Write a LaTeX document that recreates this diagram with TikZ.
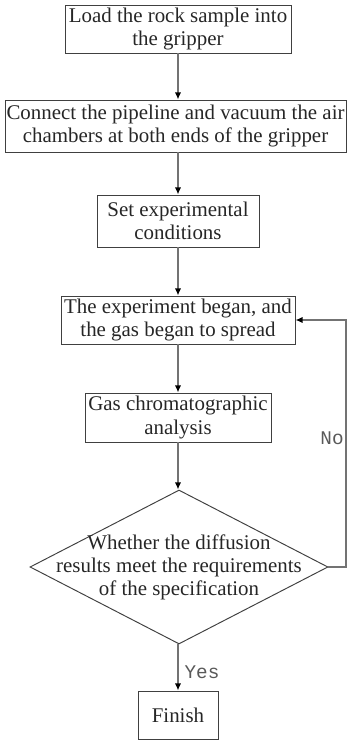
\documentclass[tikz,border=0pt]{standalone}
\usepackage{fontspec}
\setmainfont{Liberation Serif}
\newfontfamily\labelfont{Liberation Mono}
\usetikzlibrary{shapes.geometric,arrows.meta}

\begin{document}
\begin{tikzpicture}[font=\fontsize{11.9}{13.1}\selectfont,
    stepbox/.style={draw=black!75,line width=0.55pt,align=center,inner sep=0pt,text=black!85},
    flow/.style={draw=black!55,line width=0.85pt,-{Latex[black,length=4pt,width=3.6pt]}},
    answer/.style={font=\labelfont\fontsize{11}{13}\selectfont,text=black!65}]
      \useasboundingbox (0,0) rectangle (6.94,14.86);
      \node[stepbox,minimum width=4.52cm,minimum height=0.96cm] (load) at (3.56,14.28) {Load the rock sample into\\the gripper};
      \node[stepbox,minimum width=6.82cm,minimum height=1.04cm] (connect) at (3.51,12.34) {Connect the pipeline and vacuum the air\\chambers at both ends of the gripper};
      \node[stepbox,minimum width=3.24cm,minimum height=1.04cm] (conditions) at (3.56,10.44) {Set experimental\\conditions};
      \node[stepbox,minimum width=4.68cm,minimum height=0.96cm] (spread) at (3.56,8.46) {The experiment began, and\\the gas began to spread};
      \node[stepbox,minimum width=3.72cm,minimum height=0.98cm] (analysis) at (3.56,6.51) {Gas chromatographic\\analysis};
      \node[stepbox,diamond,aspect=1.94,inner sep=-0.6cm,minimum width=5.96cm,minimum height=3.08cm] (check) at (3.58,3.52) {Whether the diffusion\\results meet the requirements\\of the specification};
      \node[stepbox,minimum width=1.6cm,minimum height=0.96cm] (finish) at (3.56,0.56) {Finish};
      \draw[flow] (load) -- (load |- connect.north);
      \draw[flow] (load |- connect.south) -- (conditions);
      \draw[flow] (conditions) -- (spread);
      \draw[flow] (spread) -- (analysis);
      \draw[flow] (analysis) -- (analysis |- check.north);
      \draw[flow] (analysis |- check.south) -- node[answer,right,pos=0.6] {Yes} (finish);
      \draw[flow] (check.east) -- (6.92,3.52) |- (spread.east);
      \node[answer] (no) at (6.64,6.1) {No};
    \end{tikzpicture}
\end{document}
